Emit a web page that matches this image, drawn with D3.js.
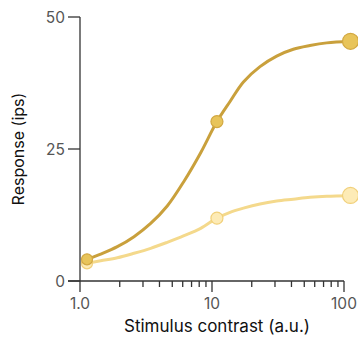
<!DOCTYPE html>
<html>
<head>
<meta charset="utf-8">
<script src="https://cdn.jsdelivr.net/npm/d3@7"></script>
<style>
  html, body { margin: 0; padding: 0; background: #fff; }
  svg { display: block; font-family: Inter, "Open Sans", sans-serif; }
</style>
</head>
<body>
<svg id="chart" width="358" height="339"></svg>
<script>
// ---- data ----
const xTickValues = [1, 10, 100];
const xTickLabels = ["1.0", "10", "100"];
const yTickValues = [0, 25, 50];
const yTickLabels = ["0", "25", "50"];

// measured points
const pointContrast = [1.13, 10.9, 112];
const highResponse = [4.1, 30.2, 45.4];
const lowResponse = [3.35, 11.9, 16.2];

// fitted curves
const curveContrast = [1.13, 1.435, 1.918, 2.565, 3.43, 4.58, 6.14, 8.21, 10.9, 13.7, 17.3, 23.1, 30.9, 41.3, 55.2, 74, 112];
const highCurve = [4.1, 5.1, 6.5, 8.4, 10.9, 14.2, 18.9, 24.3, 30.2, 34.0, 37.7, 40.6, 42.6, 43.9, 44.6, 45.1, 45.4];
const lowCurve = [3.35, 3.84, 4.41, 5.25, 6.19, 7.33, 8.58, 9.98, 11.9, 13.0, 13.8, 14.6, 15.15, 15.5, 15.85, 16.05, 16.15];

const xLabel = "Stimulus contrast (a.u.)";
const yLabel = "Response (ips)";

// ---- layout / style ----
const svg = d3.select("#chart");
const x = d3.scaleLog().domain([1, 100]).range([80, 344]);
const y = d3.scaleLinear().domain([0, 50]).range([281, 17]);
const pointRadius = [5.5, 6, 8];

const series = [
  { curve: lowCurve, pts: lowResponse, line: "#F4D98C", fill: "#FDEBB6", stroke: "#F1D07A" },
  { curve: highCurve, pts: highResponse, line: "#C9A03C", fill: "#E8C45A", stroke: "#D2A842" }
];

const axisColor = "#333";
const labelColor = "#555";

// y axis line
svg.append("line").attr("x1", 80).attr("x2", 80).attr("y1", y(50)).attr("y2", y(0))
  .attr("stroke", axisColor).attr("stroke-width", 1.3);
// x axis line
svg.append("line").attr("x1", 68).attr("x2", x(100)).attr("y1", y(0)).attr("y2", y(0))
  .attr("stroke", axisColor).attr("stroke-width", 1.3);

// y ticks
yTickValues.forEach((v, i) => {
  svg.append("line").attr("x1", 68).attr("x2", 80).attr("y1", y(v)).attr("y2", y(v))
    .attr("stroke", axisColor).attr("stroke-width", 1.3);
  svg.append("text").attr("x", 65).attr("y", y(v)).attr("dy", "0.36em")
    .attr("text-anchor", "end").attr("font-size", 15.5).attr("fill", labelColor)
    .text(yTickLabels[i]);
});

// x minor ticks
const minor = [];
[1, 10].forEach(d => { for (let k = 2; k <= 9; k++) minor.push(d * k); });
minor.forEach(v => {
  svg.append("line").attr("x1", x(v)).attr("x2", x(v)).attr("y1", y(0)).attr("y2", y(0) + 6)
    .attr("stroke", axisColor).attr("stroke-width", 1.3);
});
// x major ticks
xTickValues.forEach((v, i) => {
  svg.append("line").attr("x1", x(v)).attr("x2", x(v)).attr("y1", y(0)).attr("y2", y(0) + 11)
    .attr("stroke", axisColor).attr("stroke-width", 1.3);
  svg.append("text").attr("x", x(v)).attr("y", 309)
    .attr("text-anchor", "middle").attr("font-size", 15.5).attr("fill", labelColor)
    .text(xTickLabels[i]);
});

// axis titles
svg.append("text").attr("x", 217).attr("y", 332).attr("text-anchor", "middle")
  .attr("font-size", 17).attr("fill", "#111").text(xLabel);
svg.append("text").attr("transform", `translate(24,${y(25)}) rotate(-90)`)
  .attr("text-anchor", "middle").attr("font-size", 16).attr("fill", "#111").text(yLabel);

// curves and points
const lineGen = d3.line().x(d => x(d[0])).y(d => y(d[1])).curve(d3.curveCatmullRom.alpha(0.5));
series.forEach(s => {
  svg.append("path").datum(curveContrast.map((c, i) => [c, s.curve[i]]))
    .attr("d", lineGen).attr("fill", "none").attr("stroke", s.line).attr("stroke-width", 3);
  svg.selectAll(null).data(pointContrast.map((c, i) => [c, s.pts[i], pointRadius[i]]))
    .enter().append("circle")
    .attr("cx", d => x(d[0])).attr("cy", d => y(d[1])).attr("r", d => d[2])
    .attr("fill", s.fill).attr("stroke", s.stroke).attr("stroke-width", 1.2);
});
</script>
</body>
</html>
